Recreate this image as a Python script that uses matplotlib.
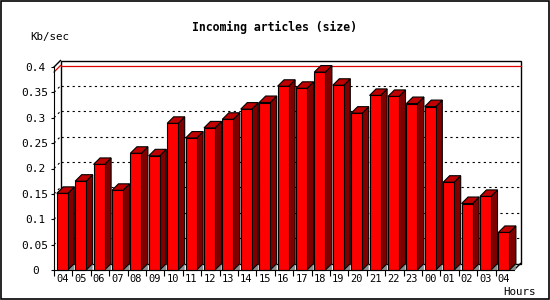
import numpy as np
import matplotlib.pyplot as plt
from matplotlib.patches import Polygon, Rectangle

hours = ['04', '05', '06', '07', '08', '09', '10', '11', '12', '13', '14', '15', '16',
         '17', '18', '19', '20', '21', '22', '23', '00', '01', '02', '03', '04']
kbsec = [0.151, 0.175, 0.208, 0.157, 0.230, 0.225, 0.289, 0.260, 0.280, 0.297, 0.317,
         0.330, 0.362, 0.358, 0.390, 0.364, 0.309, 0.344, 0.342, 0.328, 0.322, 0.173,
         0.131, 0.145, 0.074]
yticks = [0, 0.05, 0.1, 0.15, 0.2, 0.25, 0.3, 0.35, 0.4]
ytick_labels = ['0', '0.05', '0.1', '0.15', '0.2', '0.25', '0.3', '0.35', '0.4']

mono = 'DejaVu Sans Mono'
n = len(hours)
ymax = 0.4

fig = plt.figure(figsize=(5.5, 3), dpi=100)
ax_w_px, ax_h_px = 460, 203
ax = fig.add_axes([54 / 550, 30 / 300, ax_w_px / 550, ax_h_px / 300])
ax.set_xlim(0, n)
ax.set_ylim(0, ymax)

# depth of the 3d effect, in data units
depth = 6.5
ddx = depth * n / ax_w_px
ddy = depth * ymax / ax_h_px

# back plane
ax.add_patch(Rectangle((ddx, ddy), n, ymax, facecolor='white', edgecolor='black',
                       lw=1, clip_on=False, zorder=1))
for v in yticks[1:-1]:
    ax.plot([ddx, n + ddx], [v + ddy, v + ddy], color='black', ls=(0, (2, 3)),
            lw=0.8, clip_on=False, zorder=2)
    ax.plot([0, ddx], [v, v + ddy], color='black', ls=(0, (2, 3)), lw=0.8,
            clip_on=False, zorder=2)
top = max(kbsec)
ax.plot([ddx, n + ddx], [top + ddy, top + ddy], color='#dd0000', lw=0.9,
        clip_on=False, zorder=2)
ax.plot([0, ddx], [top, top + ddy], color='#dd0000', lw=0.9, clip_on=False, zorder=2)
ax.plot([0, ddx], [ymax, ymax + ddy], color='black', lw=1, clip_on=False, zorder=2)
ax.plot([n, n + ddx], [0, ddy], color='black', lw=1, clip_on=False, zorder=2)

# 3d bars
x0 = 0.15
bw = 0.6
for i, v in enumerate(kbsec):
    xl = i + x0
    xr = xl + bw
    shadow = [(xr, 0), (xr + ddx, ddy), (xr + ddx, 0)]
    side = [(xr, 0), (xr + ddx, ddy), (xr + ddx, v + ddy), (xr, v)]
    lid = [(xl, v), (xl + ddx, v + ddy), (xr + ddx, v + ddy), (xr, v)]
    ax.add_patch(Polygon(shadow, closed=True, facecolor='#8c8c8c', edgecolor='none',
                         clip_on=False, zorder=3))
    ax.add_patch(Polygon(side, closed=True, facecolor='#800000', edgecolor='black',
                         lw=0.8, clip_on=False, zorder=4))
    ax.add_patch(Polygon(lid, closed=True, facecolor='#c00000', edgecolor='black',
                         lw=0.8, clip_on=False, zorder=4))
    ax.add_patch(Rectangle((xl, 0), bw, v, facecolor='#ff0000', edgecolor='black',
                           lw=0.8, clip_on=False, zorder=5))

# axes
ax.spines['top'].set_visible(False)
ax.spines['right'].set_visible(False)
ax.spines['left'].set_zorder(6)
ax.spines['bottom'].set_zorder(6)
ax.set_facecolor('none')

ax.set_yticks(yticks)
ax.set_yticklabels(ytick_labels, fontfamily=mono, fontsize=8, ha='center')
ax.tick_params(axis='y', length=2.5, width=0.8, pad=11)

ax.set_xticks(np.arange(n))
ax.set_xticklabels([])
ax.set_xticks(np.arange(n) + 0.45, minor=True)
ax.set_xticklabels(hours, minor=True, fontfamily=mono, fontsize=7.5)
ax.tick_params(axis='x', which='major', length=4, width=0.8, direction='out')
ax.tick_params(axis='x', which='minor', length=0, pad=3)

fig.text(0.5, 1 - 27 / 300, 'Incoming articles (size)', ha='center', va='center',
         fontfamily=mono, fontweight='bold', fontsize=8.3)
fig.text(30 / 550, 1 - 37 / 300, 'Kb/sec', ha='left', va='center', fontfamily=mono,
         fontsize=7.8)
fig.text(519 / 550, 1 - 292 / 300, 'Hours', ha='center', va='center', fontfamily=mono,
         fontsize=7.8)

fig.add_artist(Rectangle((0.001, 0.002), 0.997, 0.996, transform=fig.transFigure,
                         facecolor='none', edgecolor='black', lw=1.2))

fig.savefig('out.png', dpi=100)
